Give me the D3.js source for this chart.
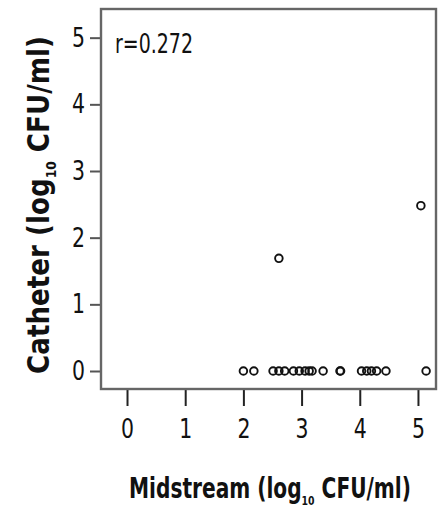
<!DOCTYPE html>
<html>
<head>
<meta charset="utf-8">
<script src="https://cdn.jsdelivr.net/npm/d3@7"></script>
<style>
  html, body { margin: 0; padding: 0; background: #fff; }
  svg { display: block; }
  text { font-family: "Liberation Sans Narrow", "DejaVu Sans Condensed", "DejaVu Sans", sans-serif; font-stretch: condensed; fill: #111; }
</style>
</head>
<body>
<svg id="chart" width="439" height="508"></svg>
<script>
// Data
const midstream = [2.00, 2.18, 2.51, 2.61, 2.71, 2.86, 2.96, 3.06, 3.13, 3.18, 3.37, 3.66, 3.67, 4.03, 4.12, 4.20, 4.29, 4.45, 5.14, 2.61, 5.05];
const catheter  = [0,    0,    0,    0,    0,    0,    0,    0,    0,    0,    0,    0,    0,    0,    0,    0,    0,    0,    0,    1.69, 2.48];
const xTicks = [0, 1, 2, 3, 4, 5];
const yTicks = [0, 1, 2, 3, 4, 5];
const annotation = "r=0.272";

const svg = d3.select("#chart");
const box = { left: 101, right: 436, top: 9, bottom: 389 };

const x = d3.scaleLinear().domain([-0.447, 5.31]).range([box.left, box.right]);
const y = d3.scaleLinear().domain([-0.27, 5.43]).range([box.bottom, box.top]);

// x axis
const xAxis = d3.axisBottom(x).tickValues(xTicks).tickSize(17).tickPadding(13).tickFormat(d3.format("d"));
const gx = svg.append("g").attr("transform", `translate(0,${box.bottom})`).call(xAxis);
gx.select(".domain").remove();
gx.selectAll(".tick line").attr("stroke", "#222").attr("stroke-width", 2);
gx.selectAll(".tick text").attr("font-size", 27).attr("fill", "#111")
  .attr("textLength", 13).attr("lengthAdjust", "spacingAndGlyphs");

// y axis
const yAxis = d3.axisLeft(y).tickValues(yTicks).tickSize(11).tickPadding(5).tickFormat(d3.format("d"));
const gy = svg.append("g").attr("transform", `translate(${box.left},0)`).call(yAxis);
gy.select(".domain").remove();
gy.selectAll(".tick line").attr("stroke", "#555").attr("stroke-width", 2);
gy.selectAll(".tick text").attr("font-size", 27).attr("fill", "#111")
  .attr("textLength", 13).attr("lengthAdjust", "spacingAndGlyphs");

// plot frame
svg.append("rect")
  .attr("x", box.left).attr("y", box.top)
  .attr("width", box.right - box.left).attr("height", box.bottom - box.top)
  .attr("fill", "none").attr("stroke", "#666").attr("stroke-width", 2.4);

// points
svg.append("g").selectAll("circle")
  .data(midstream.map((m, i) => [m, catheter[i]]))
  .join("circle")
  .attr("cx", d => x(d[0]))
  .attr("cy", d => y(d[1]))
  .attr("r", 3.8)
  .attr("fill", "none")
  .attr("stroke", "#111")
  .attr("stroke-width", 1.9);

// annotation
svg.append("text")
  .attr("x", box.left + 14).attr("y", 53)
  .attr("font-size", 26)
  .attr("textLength", 78).attr("lengthAdjust", "spacingAndGlyphs")
  .text(annotation);

// x label (horizontally condensed via group scale)
const xl = svg.append("g").attr("transform", "translate(270,498) scale(0.8,1)")
  .append("text")
  .attr("text-anchor", "middle")
  .attr("font-size", 28).attr("font-weight", "bold");
xl.append("tspan").text("Midstream (log");
xl.append("tspan").attr("font-size", 13).attr("dy", 7).text("10");
xl.append("tspan").attr("dy", -7).text(" CFU/ml)");

// y label
const yl = svg.append("g").attr("transform", "translate(49,205) rotate(-90) scale(0.97,1)")
  .append("text")
  .attr("text-anchor", "middle")
  .attr("font-size", 30).attr("font-weight", "bold");
yl.append("tspan").text("Catheter (log");
yl.append("tspan").attr("font-size", 14).attr("dy", 7).text("10");
yl.append("tspan").attr("dy", -7).text(" CFU/ml)");
</script>
</body>
</html>
